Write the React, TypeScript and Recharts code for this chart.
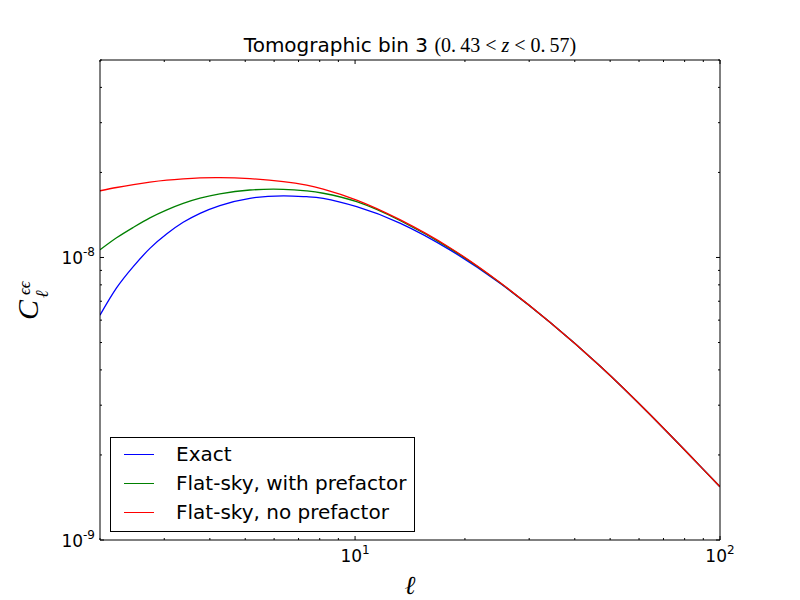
import React from "react";
import { LineChart, Line, XAxis, YAxis, Legend, Customized } from "recharts";

// multipole values and the three spectra
const ELL = [2, 2.22, 2.47, 2.74, 3.05, 3.38, 3.76, 4.26, 5.15, 6.36, 7.37, 8.18, 10.1, 13.27, 18.19, 24.9, 34.2, 46.9, 64.3, 88.1, 100];
const EXACT = [6.25e-9, 7.8e-9, 9.3e-9, 1.077e-8, 1.213e-8, 1.332e-8, 1.433e-8, 1.527e-8, 1.62e-8, 1.651e-8, 1.641e-8, 1.619e-8, 1.513e-8, 1.324e-8, 1.064e-8, 8.12e-9, 5.9e-9, 4.13e-9, 2.78e-9, 1.83e-9, 1.543e-9];
const FLAT_PREF = [1.064e-8, 1.174e-8, 1.279e-8, 1.381e-8, 1.474e-8, 1.554e-8, 1.621e-8, 1.68e-8, 1.733e-8, 1.743e-8, 1.72e-8, 1.688e-8, 1.575e-8, 1.352e-8, 1.077e-8, 8.15e-9, 5.9e-9, 4.13e-9, 2.78e-9, 1.83e-9, 1.543e-9];
const FLAT_NOPREF = [1.722e-8, 1.769e-8, 1.812e-8, 1.848e-8, 1.878e-8, 1.898e-8, 1.913e-8, 1.918e-8, 1.901e-8, 1.856e-8, 1.803e-8, 1.746e-8, 1.597e-8, 1.361e-8, 1.083e-8, 8.17e-9, 5.9e-9, 4.13e-9, 2.78e-9, 1.83e-9, 1.543e-9];

const SERIES_KEYS = ["exact", "flatPref", "flatNoPref"];
const SERIES_NAMES = ["Exact", "Flat-sky, with prefactor", "Flat-sky, no prefactor"];
const SERIES_COLORS = ["#0000ff", "#008000", "#ff0000"];

const X_TICKS = [2, 3, 4, 5, 6, 7, 8, 9, 10, 20, 30, 40, 50, 60, 70, 80, 90, 100];
const Y_TICKS = [1e-9, 2e-9, 3e-9, 4e-9, 5e-9, 6e-9, 7e-9, 8e-9, 9e-9, 1e-8, 2e-8, 3e-8, 4e-8, 5e-8];

const data = ELL.map((l, i) => ({
  l,
  exact: EXACT[i],
  flatPref: FLAT_PREF[i],
  flatNoPref: FLAT_NOPREF[i],
}));

const SANS = "DejaVu Sans";
const SERIF = "Liberation Serif";

const isMajor = (v: number) => {
  const lg = Math.log10(v);
  return Math.abs(lg - Math.round(lg)) < 1e-6;
};

// ticks point inwards, matplotlib classic style
const makeTick = (side: "bottom" | "top" | "left" | "right") => (props: any) => {
  const { x, y, payload } = props;
  const v = payload.value;
  const major = isMajor(v);
  const len = major ? 4 : 2;
  const exp = Math.round(Math.log10(v));
  const sup = exp < 0 ? `-${-exp}` : `${exp}`;
  if (side === "bottom") {
    return (
      <g>
        <line x1={x} x2={x} y1={y} y2={y - len} stroke="#000" />
        {major && (
          <text x={x} y={y + 22} textAnchor="middle" fontFamily={SANS} fontSize={17} fill="#000">
            10<tspan dy={-8} fontSize={12}>{sup}</tspan>
          </text>
        )}
      </g>
    );
  }
  if (side === "top") {
    return <line x1={x} x2={x} y1={y} y2={y + len} stroke="#000" />;
  }
  if (side === "left") {
    return (
      <g>
        <line x1={x} x2={x + len} y1={y} y2={y} stroke="#000" />
        {major && (
          <text x={x - 5} y={y + 7} textAnchor="end" fontFamily={SANS} fontSize={17} fill="#000">
            10<tspan dy={-8} fontSize={12}>{sup}</tspan>
          </text>
        )}
      </g>
    );
  }
  return <line x1={x} x2={x - len} y1={y} y2={y} stroke="#000" />;
};

const renderLegend = () => (
  <div
    style={{
      width: 303,
      height: 91,
      border: "1px solid #000",
      background: "#fff",
      fontFamily: SANS,
      fontSize: 20,
      paddingTop: 2,
      boxSizing: "content-box",
    }}
  >
    {SERIES_NAMES.map((name, i) => (
      <div key={name} style={{ display: "flex", alignItems: "center", height: 29 }}>
        <div style={{ width: 30, height: 0, borderTop: `1.3px solid ${SERIES_COLORS[i]}`, marginLeft: 13 }} />
        <span style={{ marginLeft: 22, lineHeight: "29px" }}>{name}</span>
      </div>
    ))}
  </div>
);

const Labels = () => (
  <g>
    <text x={410} y={52} textAnchor="middle" fontSize={20} fill="#000">
      <tspan fontFamily={SANS}>Tomographic bin 3 </tspan>
      <tspan fontFamily={SERIF}>(0.{"\u2009"}43 {"<"} </tspan>
      <tspan fontFamily={SERIF} fontStyle="italic">z</tspan>
      <tspan fontFamily={SERIF}> {"<"} 0.{"\u2009"}57)</tspan>
    </text>
    <text x={410} y={594} textAnchor="middle" fontFamily={SERIF} fontStyle="italic" fontSize={26} fill="#000">
      ℓ
    </text>
    <g transform="translate(38,300) rotate(-90)">
      <text x={-20} y={0} fontFamily={SERIF} fontStyle="italic" fontSize={30} fill="#000">C</text>
      <text x={5} y={-8} fontFamily={SERIF} fontStyle="italic" fontSize={17} fill="#000">ϵϵ</text>
      <text x={2} y={10} fontFamily={SERIF} fontStyle="italic" fontSize={18} fill="#000">ℓ</text>
    </g>
  </g>
);

export default function App() {
  return (
    <div style={{ position: "absolute", left: 0, top: 0, width: 800, height: 600, background: "#fff" }}>
      <LineChart width={800} height={600} data={data} margin={{ top: 40, right: 60, bottom: 30, left: 40 }}>
        <XAxis
          dataKey="l"
          type="number"
          scale="log"
          domain={[2, 100]}
          allowDataOverflow
          ticks={X_TICKS}
          interval={0}
          height={30}
          tickSize={0}
          tickMargin={0}
          tickLine={false}
          axisLine={{ stroke: "#000" }}
          tick={makeTick("bottom")}
        />
        <XAxis
          xAxisId="top"
          orientation="top"
          dataKey="l"
          type="number"
          scale="log"
          domain={[2, 100]}
          allowDataOverflow
          ticks={X_TICKS}
          interval={0}
          height={20}
          tickSize={0}
          tickMargin={0}
          tickLine={false}
          axisLine={{ stroke: "#000" }}
          tick={makeTick("top")}
        />
        <YAxis
          type="number"
          scale="log"
          domain={[1e-9, 5e-8]}
          allowDataOverflow
          ticks={Y_TICKS}
          interval={0}
          width={60}
          tickSize={0}
          tickMargin={0}
          tickLine={false}
          axisLine={{ stroke: "#000" }}
          tick={makeTick("left")}
        />
        <YAxis
          yAxisId="right"
          orientation="right"
          type="number"
          scale="log"
          domain={[1e-9, 5e-8]}
          allowDataOverflow
          ticks={Y_TICKS}
          interval={0}
          width={20}
          tickSize={0}
          tickMargin={0}
          tickLine={false}
          axisLine={{ stroke: "#000" }}
          tick={makeTick("right")}
        />
        {SERIES_KEYS.map((key, i) => (
          <Line
            key={key}
            type="natural"
            dataKey={key}
            name={SERIES_NAMES[i]}
            stroke={SERIES_COLORS[i]}
            strokeWidth={1.3}
            dot={false}
            isAnimationActive={false}
          />
        ))}
        <Legend
          layout="vertical"
          align="center"
          verticalAlign="middle"
          content={renderLegend}
          wrapperStyle={{ position: "absolute", left: 110, top: 437, width: "auto" }}
        />
        <Customized component={<Labels />} />
      </LineChart>
    </div>
  );
}
